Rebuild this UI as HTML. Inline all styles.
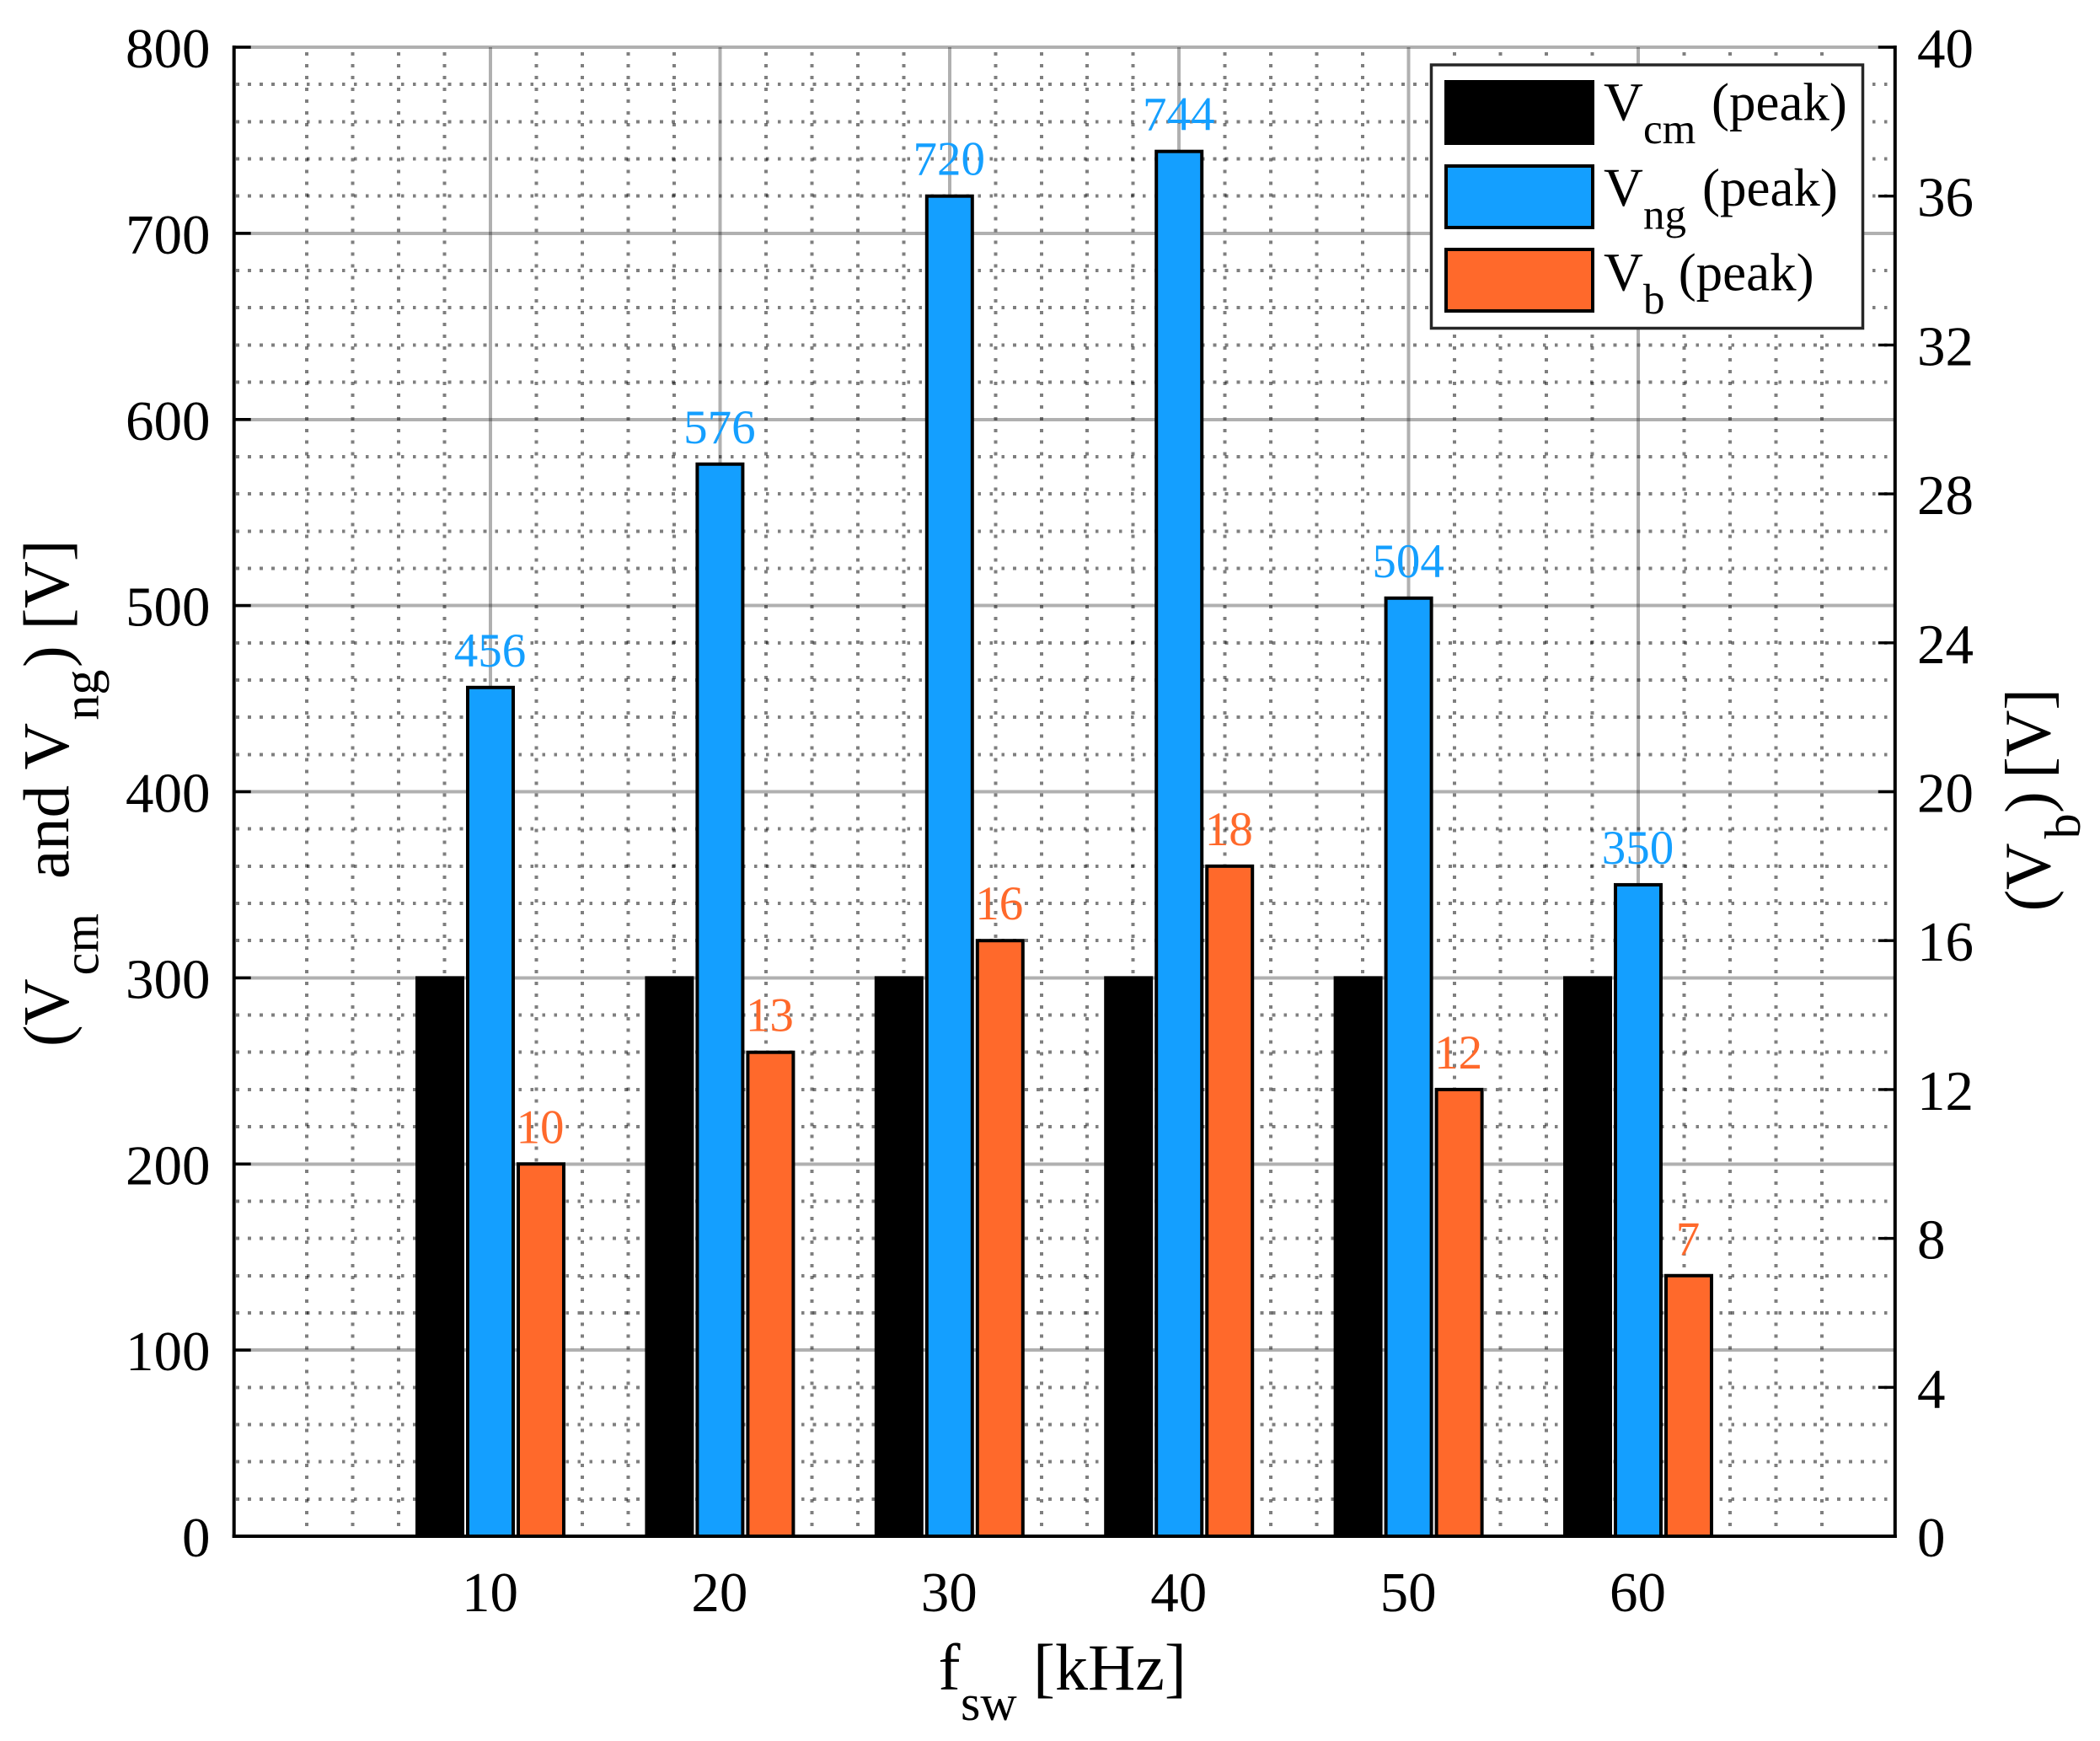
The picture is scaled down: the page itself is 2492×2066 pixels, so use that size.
<!DOCTYPE html>
<html lang="en">
<head>
<meta charset="utf-8">
<title>Peak voltages vs switching frequency</title>
<style>
html,body{margin:0;padding:0;background:#fff;}
svg{display:block;}
text{font-family:"Liberation Serif","Times New Roman",serif;fill:#000;}
#grid line{shape-rendering:crispEdges;}
</style>
</head>
<body>
<svg id="chart" xmlns="http://www.w3.org/2000/svg" width="2492" height="2066" viewBox="0 0 2492 2066">
  <rect x="0" y="0" width="2492" height="2066" fill="#ffffff"/>
  <g id="grid"></g>
  <g id="bars"></g>
  <g id="values"></g>
  <g id="axes"></g>

  <g>
    <text x="1113.5" y="2005" font-size="78">f</text>
    <text x="1140" y="2041" font-size="60">sw</text>
    <text x="1226" y="2005" font-size="78">[kHz]</text>
  </g>

  <g transform="translate(81,1242) rotate(-90)">
    <text x="0" y="0" font-size="77">(</text>
    <text x="25" y="0" font-size="77">V</text>
    <text x="84.7" y="35.7" font-size="60">cm</text>
    <text x="199" y="0" font-size="77">and</text>
    <text x="328.5" y="0" font-size="77">V</text>
    <text x="387.4" y="35.7" font-size="60">ng</text>
    <text x="450" y="0" font-size="77">)</text>
    <text x="494.6" y="0" font-size="77">[V]</text>
  </g>

  <g transform="translate(2432.7,1081.4) rotate(-90)">
    <text x="0" y="0" font-size="77">(</text>
    <text x="25.4" y="0" font-size="77">V</text>
    <text x="86" y="35.5" font-size="60">b</text>
    <text x="116.5" y="0" font-size="77">)</text>
    <text x="157.5" y="0" font-size="77">[V]</text>
  </g>

  <g>
    <rect x="1698.5" y="77" width="512" height="312.5" fill="#ffffff" stroke="#262626" stroke-width="3.5"/>
    <g>
      <rect x="1716" y="97" width="174" height="73" fill="#000000" stroke="#000000" stroke-width="4"/>
      <text x="1903" y="142.7" font-size="65">V</text>
      <text x="1950" y="170" font-size="51">cm</text>
      <text x="2031" y="142.7" font-size="63">(peak)</text>
    </g>
    <g>
      <rect x="1716" y="197" width="174" height="73" fill="#149fff" stroke="#000000" stroke-width="4"/>
      <text x="1903" y="244" font-size="65">V</text>
      <text x="1950" y="271.3" font-size="51">ng</text>
      <text x="2020" y="244" font-size="63">(peak)</text>
    </g>
    <g>
      <rect x="1716" y="296" width="174" height="73" fill="#ff692b" stroke="#000000" stroke-width="4"/>
      <text x="1903" y="344.7" font-size="65">V</text>
      <text x="1950" y="372" font-size="51">b</text>
      <text x="1991.7" y="344.7" font-size="63">(peak)</text>
    </g>
  </g>
</svg>

<script>
// Chart data
const categories = ["10", "20", "30", "40", "50", "60"];
const vcmPeak = [300, 300, 300, 300, 300, 300];
const vngPeak = [456, 576, 720, 744, 504, 350];
const vbPeak = [10, 13, 16, 18, 12, 7];
const vngLabels = ["456", "576", "720", "744", "504", "350"];
const vbLabels = ["10", "13", "16", "18", "12", "7"];
const leftTicks = [0, 100, 200, 300, 400, 500, 600, 700, 800];
const rightTicks = [0, 4, 8, 12, 16, 20, 24, 28, 32, 36, 40];

const NS = "http://www.w3.org/2000/svg";
const plotLeft = 277.7, plotRight = 2248.8, plotTop = 56, plotBottom = 1823;
const leftMax = 800, rightMax = 40;
const catStart = 582, catStep = 272.4;
const barOffset = 60, barWidth = 54;
const blue = "#149fff", orange = "#ff692b";

function yLeft(v) { return plotBottom - (v / leftMax) * (plotBottom - plotTop); }
function yRight(v) { return plotBottom - (v / rightMax) * (plotBottom - plotTop); }
function xCat(i) { return catStart + catStep * i; }

function make(tag, attrs, parent) {
  const el = document.createElementNS(NS, tag);
  for (const k in attrs) el.setAttribute(k, attrs[k]);
  parent.appendChild(el);
  return el;
}

const gridG = document.getElementById("grid");
const barsG = document.getElementById("bars");
const valuesG = document.getElementById("values");
const axesG = document.getElementById("axes");

// Minor vertical grid
const minorStepX = catStep / 5;
for (let k = -5; k <= 30; k++) {
  if (k % 5 === 0) continue;
  const x = catStart + k * minorStepX;
  if (x <= plotLeft + 2 || x >= plotRight - 2) continue;
  const line = make("line", { x1: x, x2: x, y1: plotBottom, y2: plotTop + 4, stroke: "#000", "stroke-opacity": 0.5, "stroke-width": 4, "stroke-dasharray": "4 9.96", "stroke-dashoffset": 2 }, gridG);
  
  
}
// Minor horizontal grid
for (let v = 0; v <= leftMax; v += 20) {
  if (v % 100 === 0) continue;
  const y = yLeft(v);
  const line = make("line", { x1: 280.2, x2: plotRight - 2, y1: y, y2: y, stroke: "#000", "stroke-opacity": 0.5, "stroke-width": 4, "stroke-dasharray": "3.7 10.27" }, gridG);
  
  
}
// Major vertical grid
categories.forEach(function (c, i) {
  const x = xCat(i);
  const line = make("line", { x1: x, x2: x, y1: plotTop, y2: plotBottom, stroke: "#000", "stroke-opacity": 0.31, "stroke-width": 4 }, gridG);
  
  
});
// Major horizontal grid
leftTicks.forEach(function (v) {
  if (v === 0) return;
  const y = yLeft(v);
  const line = make("line", { x1: plotLeft, x2: plotRight, y1: y, y2: y, stroke: "#000", "stroke-opacity": 0.31, "stroke-width": 4 }, gridG);
  
  
});

// Bars
function drawBar(name, x, yTop, fill) {
  const bar = make("rect", { x: x - barWidth / 2, y: yTop, width: barWidth, height: plotBottom - yTop, fill: fill, stroke: "#000", "stroke-width": 4 }, barsG);
  
  
}
categories.forEach(function (c, i) {
  const cx = xCat(i);
  drawBar("bar-vcm-" + c, cx - barOffset, yLeft(vcmPeak[i]), "#000000");
  drawBar("bar-vng-" + c, cx, yLeft(vngPeak[i]), blue);
  drawBar("bar-vb-" + c, cx + barOffset, yRight(vbPeak[i]), orange);
});

// Value labels
categories.forEach(function (c, i) {
  const cx = xCat(i);
  const t1 = make("text", { x: cx - 0.5, y: yLeft(vngPeak[i]) - 25, "font-size": 57, "text-anchor": "middle", style: "fill:" + blue }, valuesG);
  t1.textContent = vngLabels[i];
  
  
  const t2 = make("text", { x: cx + barOffset - 1, y: yRight(vbPeak[i]) - 25, "font-size": 57, "text-anchor": "middle", style: "fill:" + orange }, valuesG);
  t2.textContent = vbLabels[i];
  
  
});

// Spines
const spineLeft = make("line", { x1: plotLeft, x2: plotLeft, y1: plotTop - 2, y2: plotBottom + 2, stroke: "#000", "stroke-width": 4 }, axesG);


const spineRight = make("line", { x1: plotRight, x2: plotRight, y1: plotTop - 2, y2: plotBottom + 2, stroke: "#000", "stroke-width": 4 }, axesG);


const spineBottom = make("line", { x1: plotLeft - 2, x2: plotRight + 2, y1: plotBottom, y2: plotBottom, stroke: "#000", "stroke-width": 4 }, axesG);



// Left ticks and labels
leftTicks.forEach(function (v) {
  const y = yLeft(v);
  if (v !== 0) {
    const tick = make("line", { x1: plotLeft, x2: plotLeft + 20, y1: y, y2: y, stroke: "#000", "stroke-width": 3.4 }, axesG);
    
    
  }
  const label = make("text", { x: 249.5, y: y + 24, "font-size": 67, "text-anchor": "end" }, axesG);
  label.textContent = String(v);
  
  
});
// Right ticks and labels
rightTicks.forEach(function (v) {
  const y = yRight(v);
  if (v !== 0) {
    const tick = make("line", { x1: plotRight - 20, x2: plotRight, y1: y, y2: y, stroke: "#000", "stroke-width": 3.4 }, axesG);
    
    
  }
  const label = make("text", { x: 2275, y: y + 24, "font-size": 67 }, axesG);
  label.textContent = String(v);
  
  
});
// X tick labels
categories.forEach(function (c, i) {
  const label = make("text", { x: xCat(i) - 0.5, y: 1912, "font-size": 67, "text-anchor": "middle" }, axesG);
  label.textContent = c;
  
  
});
</script>
</body>
</html>
